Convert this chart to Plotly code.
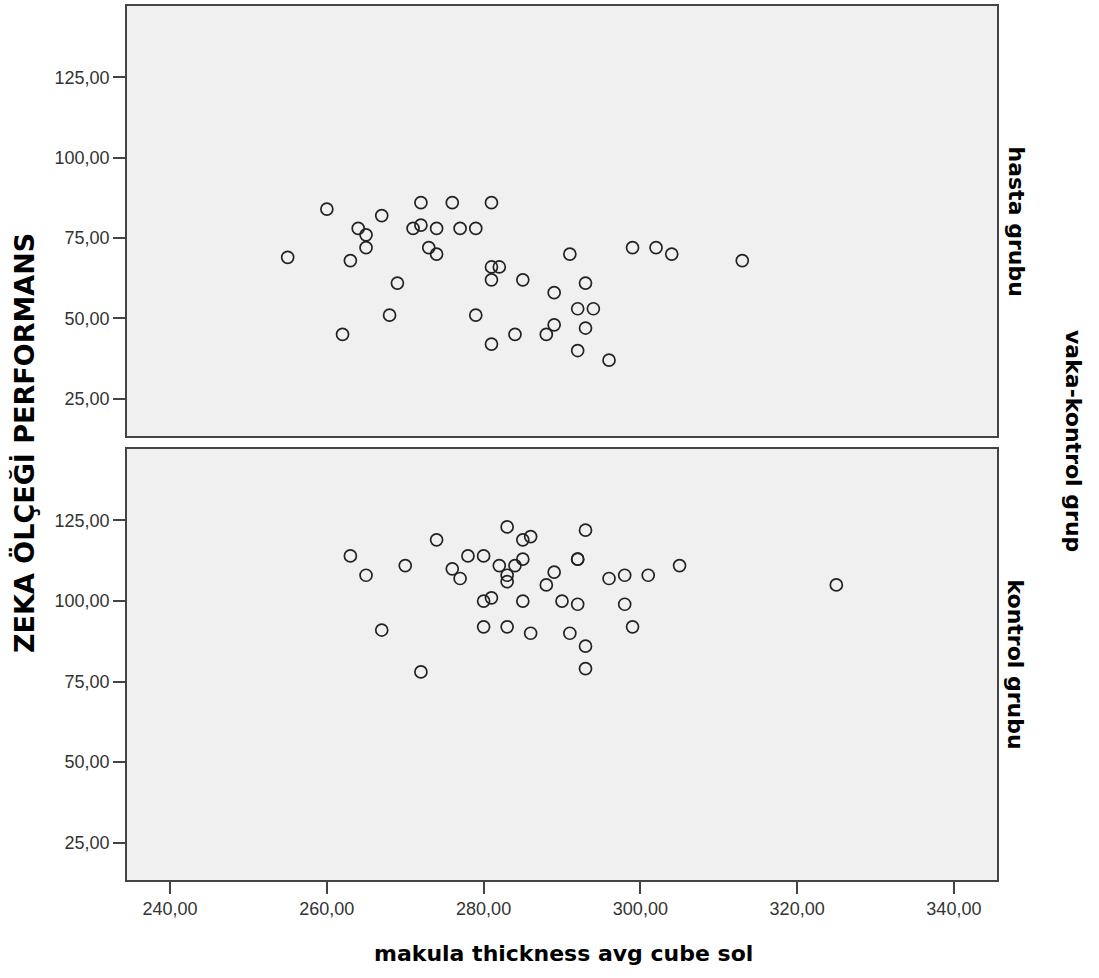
import plotly.graph_objects as go
from plotly.subplots import make_subplots

# ---- data ----
hasta_x = [255, 260, 264, 265, 265, 263, 262, 267, 269, 268, 271, 272, 272, 273,
           274, 274, 276, 277, 279, 279, 281, 281, 282, 281, 281, 284, 285, 288,
           289, 289, 291, 292, 292, 293, 293, 294, 296, 299, 302, 304, 313]
hasta_y = [69, 84, 78, 76, 72, 68, 45, 82, 61, 51, 78, 79, 86, 72,
           78, 70, 86, 78, 78, 51, 86, 66, 66, 62, 42, 45, 62, 45,
           58, 48, 70, 53, 40, 61, 47, 53, 37, 72, 72, 70, 68]

kontrol_x = [263, 265, 267, 270, 272, 274, 276, 277, 278, 280, 280, 281, 280, 282,
             283, 283, 283, 283, 284, 285, 286, 285, 285, 286, 288, 289, 290, 292,
             292, 292, 293, 291, 293, 293, 296, 298, 298, 299, 301, 305, 325]
kontrol_y = [114, 108, 91, 111, 78, 119, 110, 107, 114, 114, 100, 101, 92, 111,
             123, 108, 106, 92, 111, 119, 120, 113, 100, 90, 105, 109, 100, 99,
             113, 113, 122, 90, 86, 79, 107, 108, 99, 92, 108, 111, 105]

x_ticks = [240, 260, 280, 300, 320, 340]
x_tick_labels = ["240,00", "260,00", "280,00", "300,00", "320,00", "340,00"]
y_ticks = [25, 50, 75, 100, 125]
y_tick_labels = ["25,00", "50,00", "75,00", "100,00", "125,00"]

panel_labels = ["hasta grubu", "kontrol grubu"]
facet_title = "vaka-kontrol grup"
x_title = "makula thickness avg cube sol"
y_title = "ZEKA ÖLÇEĞİ PERFORMANS"

# ---- figure ----
W, H = 1099, 978
ML, MR, MT, MB = 127, 102, 4, 98
PW, PH = W - ML - MR, H - MT - MB


def px_x(p):
    return (p - ML) / PW


def px_y(p):
    return (H - MB - p) / PH


fig = make_subplots(rows=2, cols=1, shared_xaxes=False, vertical_spacing=0.0)

marker = dict(symbol="circle-open", size=12, color="#222222", line=dict(width=1.7))
fig.add_trace(go.Scatter(x=hasta_x, y=hasta_y, mode="markers", marker=marker,
                         showlegend=False, hoverinfo="x+y"), row=1, col=1)
fig.add_trace(go.Scatter(x=kontrol_x, y=kontrol_y, mode="markers", marker=marker,
                         showlegend=False, hoverinfo="x+y"), row=2, col=1)

axis_common = dict(showline=True, mirror=True, linecolor="#444444", linewidth=1.6,
                   showgrid=False, zeroline=False,
                   tickfont=dict(family="Liberation Sans, Arial", size=18, color="#333333"),
                   ticks="outside", ticklen=12, tickwidth=1.5, tickcolor="#444444")

fig.update_layout(
    width=W, height=H,
    margin=dict(l=ML, r=MR, t=MT, b=MB, pad=0),
    paper_bgcolor="white",
    plot_bgcolor="#F0F0F0",
    xaxis=dict(axis_common, domain=[0, 1], range=[234.5, 345.5],
               tickvals=x_ticks, ticktext=x_tick_labels, showticklabels=False, ticks=""),
    xaxis2=dict(axis_common, domain=[0, 1], range=[234.5, 345.5],
                tickvals=x_ticks, ticktext=x_tick_labels),
    yaxis=dict(axis_common, domain=[px_y(435), px_y(4)], range=[13.4, 147.2],
               tickvals=y_ticks, ticktext=y_tick_labels),
    yaxis2=dict(axis_common, domain=[px_y(880), px_y(448)], range=[13.4, 147.2],
                tickvals=y_ticks, ticktext=y_tick_labels),
)

bold = "DejaVu Sans"
fig.add_annotation(text=f"<b>{y_title}</b>", xref="paper", yref="paper",
                   x=px_x(24), y=px_y(442), xanchor="center", yanchor="middle",
                   textangle=-90, showarrow=False,
                   font=dict(family=bold, size=27, color="#000000"))
fig.add_annotation(text=f"<b>{x_title}</b>", xref="paper", yref="paper",
                   x=px_x(563), y=px_y(954), xanchor="center", yanchor="middle",
                   showarrow=False, font=dict(family=bold, size=22, color="#000000"))
fig.add_annotation(text=f"<b>{panel_labels[0]}</b>", xref="paper", yref="paper",
                   x=px_x(1016), y=px_y(220), xanchor="center", yanchor="middle",
                   textangle=90, showarrow=False,
                   font=dict(family=bold, size=22, color="#000000"))
fig.add_annotation(text=f"<b>{panel_labels[1]}</b>", xref="paper", yref="paper",
                   x=px_x(1016), y=px_y(664), xanchor="center", yanchor="middle",
                   textangle=90, showarrow=False,
                   font=dict(family=bold, size=22, color="#000000"))
fig.add_annotation(text=f"<b>{facet_title}</b>", xref="paper", yref="paper",
                   x=px_x(1074), y=px_y(440), xanchor="center", yanchor="middle",
                   textangle=90, showarrow=False,
                   font=dict(family=bold, size=22, color="#000000"))

fig.write_html("out.html", config={"displayModeBar": False},
               post_script="document.body.style.margin='0';")
